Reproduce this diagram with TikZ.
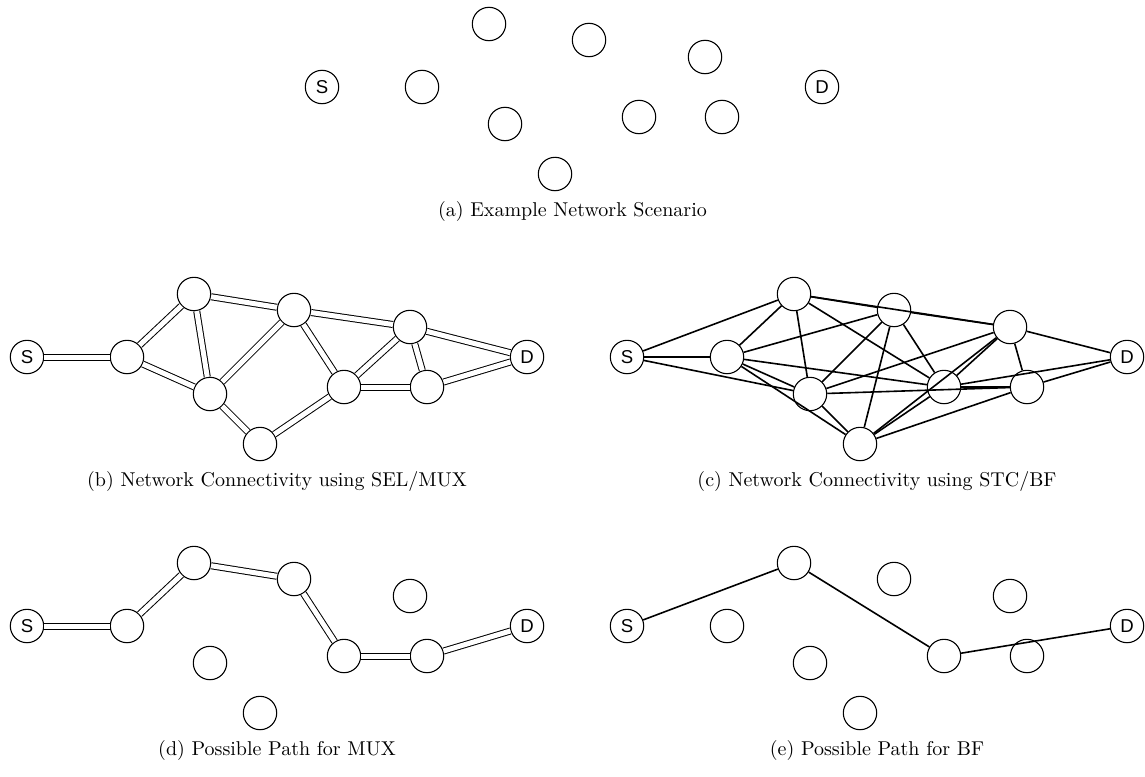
\documentclass[tikz,border=0pt]{standalone}
\usepackage{fontspec}
\newfontfamily\labelfont{Liberation Sans}

% one copy of the network, #1 = prefix of the node names
\newcommand{\netnodes}[1]{%
  \node[end node]  (#1-S) at (0,0)      {S};
  \node[main node] (#1-1) at (100,0)    {};
  \node[main node] (#1-2) at (167,-63)  {};
  \node[main node] (#1-3) at (183,37)   {};
  \node[main node] (#1-4) at (233,87)   {};
  \node[main node] (#1-5) at (267,-47)  {};
  \node[main node] (#1-6) at (317,30)   {};
  \node[main node] (#1-7) at (383,-30)  {};
  \node[main node] (#1-8) at (400,30)   {};
  \node[end node]  (#1-D) at (500,0)    {D};
}

\begin{document}
\begin{tikzpicture}[x=0.5pt, y=-0.5pt,
    main node/.style={circle, draw, line width=0.55pt, minimum size=16.7pt, inner sep=0pt},
    end node/.style={main node, font=\labelfont\fontsize{9.3}{10}\selectfont},
    mux links/.style={every edge/.style={draw, double, line width=0.5pt, double distance=2.5pt}},
    stc links/.style={every edge/.style={draw, line width=0.8pt}},
    caption/.style={font=\fontsize{10}{12}\selectfont}]

  \useasboundingbox (0,0) rectangle (1145,776);

  % (a) nodes only
  \begin{scope}[shift={(322,87)}]
    \netnodes{a}
  \end{scope}
  \node[caption] (cap-a) at (572.5,211) {(a) Example Network Scenario};

  % (b) SEL/MUX links
  \begin{scope}[shift={(27,357)}]
    \netnodes{b}
  \end{scope}
  \path[mux links]
    (b-S) edge (b-1)
    (b-1) edge (b-2)  (b-1) edge (b-3)
    (b-2) edge (b-3)  (b-2) edge (b-5)
    (b-3) edge (b-5)  (b-3) edge (b-4)
    (b-4) edge (b-6)
    (b-5) edge (b-6)  (b-5) edge (b-7)
    (b-6) edge (b-7)  (b-6) edge (b-8)
    (b-7) edge (b-8)
    (b-7) edge (b-D)  (b-8) edge (b-D);
  \node[caption] (cap-b) at (277,481) {(b) Network Connectivity using SEL/MUX};

  % (c) STC/BF links
  \begin{scope}[shift={(627,357)}]
    \netnodes{c}
  \end{scope}
  \path[stc links]
    (c-S) edge (c-1)  (c-S) edge (c-2)  (c-S) edge (c-3)
    (c-1) edge (c-2)  (c-1) edge (c-3)  (c-1) edge (c-4)
    (c-1) edge (c-5)  (c-1) edge (c-6)
    (c-2) edge (c-3)  (c-2) edge (c-5)  (c-2) edge (c-6)  (c-2) edge (c-7)
    (c-3) edge (c-4)  (c-3) edge (c-5)  (c-3) edge (c-7)  (c-3) edge (c-8)
    (c-4) edge (c-5)  (c-4) edge (c-6)  (c-4) edge (c-7)  (c-4) edge (c-8)
    (c-5) edge (c-6)  (c-5) edge (c-7)
    (c-6) edge (c-7)  (c-6) edge (c-8)  (c-6) edge (c-D)
    (c-7) edge (c-8)  (c-7) edge (c-D)
    (c-8) edge (c-D);
  \node[caption] (cap-c) at (877,481) {(c) Network Connectivity using STC/BF};

  % (d) MUX path
  \begin{scope}[shift={(27,626)}]
    \netnodes{d}
  \end{scope}
  \path[mux links]
    (d-S) edge (d-1)  (d-1) edge (d-2)  (d-2) edge (d-5)
    (d-5) edge (d-6)  (d-6) edge (d-8)  (d-8) edge (d-D);
  \node[caption] (cap-d) at (277,750) {(d) Possible Path for MUX};

  % (e) BF path
  \begin{scope}[shift={(627,626)}]
    \netnodes{e}
  \end{scope}
  \path[stc links]
    (e-S) edge (e-2)  (e-2) edge (e-6)  (e-6) edge (e-D);
  \node[caption] (cap-e) at (877,750) {(e) Possible Path for BF};
\end{tikzpicture}
\end{document}
